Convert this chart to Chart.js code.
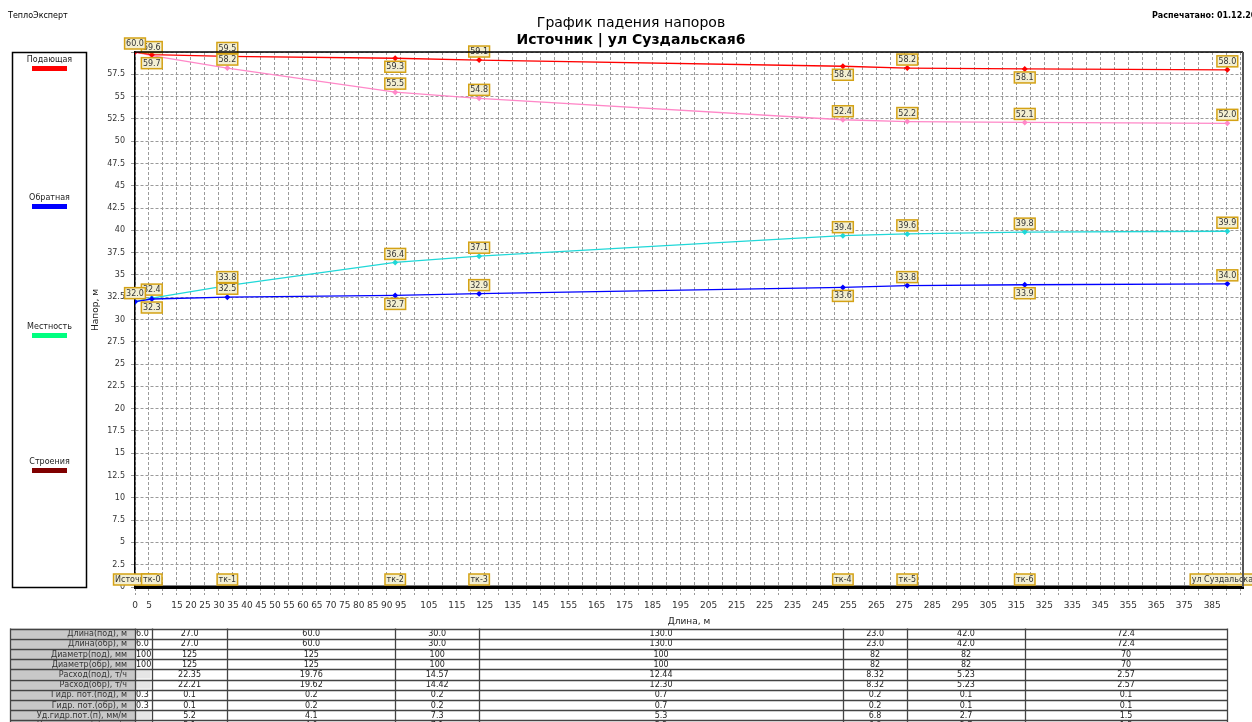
<!DOCTYPE html>
<html lang="ru">
<head>
    <meta charset="UTF-8">
    <title>График падения напоров</title>
    <script src="https://cdn.jsdelivr.net/npm/chart.js"></script>
    <style>
        body {
            margin: 0;
            background: #fff;
        }
        #chart {
            display: block;
        }
    </style>
</head>
<body>
    <canvas id="chart" width="1252" height="722"></canvas>
    <script>
        // Nodes along the pipe
        const nodeNames = ['Источник', 'тк-0', 'тк-1', 'тк-2', 'тк-3', 'тк-4', 'тк-5', 'тк-6', 'ул Суздальская6'];
        const nodeDist = [0, 6, 33, 93, 123, 253, 276, 318, 390.4];

        // Heads, m
        const supplyHead = [60.0, 59.7, 59.5, 59.3, 59.1, 58.4, 58.2, 58.1, 58.0];
        const supplyPiezo = [60.0, 59.6, 58.2, 55.5, 54.8, 52.4, 52.2, 52.1, 52.0];
        const returnHead = [32.0, 32.3, 32.5, 32.7, 32.9, 33.6, 33.8, 33.9, 34.0];
        const returnPiezo = [32.0, 32.4, 33.8, 36.4, 37.1, 39.4, 39.6, 39.8, 39.9];
        const terrain = [0, 0, 0, 0, 0, 0, 0, 0, 0];

        // which value labels sit under the point
        const supplyBelow = [1, 3, 5, 7];
        const returnBelow = [1, 3, 5, 7];

        // x tick labels that are printed
        const xTickLabels = [0, 5, 15, 20, 25, 30, 35, 40, 45, 50, 55, 60, 65, 70, 75, 80, 85, 90, 95,
            105, 115, 125, 135, 145, 155, 165, 175, 185, 195, 205, 215, 225, 235, 245, 255, 265, 275,
            285, 295, 305, 315, 325, 335, 345, 355, 365, 375, 385];

        const legendNames = ['Подающая', 'Обратная', 'Местность', 'Строения'];
        const legendColors = ['#ff0000', '#0000ff', '#00ff80', '#800000'];

        // Table under the chart (one value per pipe segment)
        const tableRows = ['Длина(под), м', 'Длина(обр), м', 'Диаметр(под), мм', 'Диаметр(обр), мм',
            'Расход(под), т/ч', 'Расход(обр), т/ч', 'Гидр. пот.(под), м', 'Гидр. пот.(обр), м',
            'Уд.гидр.пот.(п), мм/м', 'Уд.гидр.пот.(о), мм/м'];
        const lenSupply = ['6.0', '27.0', '60.0', '30.0', '130.0', '23.0', '42.0', '72.4'];
        const lenReturn = ['6.0', '27.0', '60.0', '30.0', '130.0', '23.0', '42.0', '72.4'];
        const diamSupply = ['100', '125', '125', '100', '100', '82', '82', '70'];
        const diamReturn = ['100', '125', '125', '100', '100', '82', '82', '70'];
        const flowSupply = ['', '22.35', '19.76', '14.57', '12.44', '8.32', '5.23', '2.57'];
        const flowReturn = ['', '22.21', '19.62', '14.42', '12.30', '8.32', '5.23', '2.57'];
        const lossSupply = ['0.3', '0.1', '0.2', '0.2', '0.7', '0.2', '0.1', '0.1'];
        const lossReturn = ['0.3', '0.1', '0.2', '0.2', '0.7', '0.2', '0.1', '0.1'];
        const specSupply = ['', '5.2', '4.1', '7.3', '5.3', '6.8', '2.7', '1.5'];
        const specReturn = ['', '5.1', '4.0', '7.1', '5.2', '6.8', '2.7', '1.5'];
        const tableData = [lenSupply, lenReturn, diamSupply, diamReturn, flowSupply, flowReturn,
            lossSupply, lossReturn, specSupply, specReturn];

        const FONT = 'DejaVu Sans';

        function pts(arr) {
            return arr.map((v, i) => ({x: nodeDist[i], y: v}));
        }

        function lineSet(label, values, color, extra) {
            return Object.assign({
                label: label,
                data: pts(values),
                borderColor: color,
                backgroundColor: color,
                borderWidth: 1.3,
                pointStyle: 'rectRot',
                pointRadius: 3,
                pointBorderWidth: 0,
                tension: 0
            }, extra || {});
        }

        function box(ctx, text, cx, y, above, fontSize) {
            ctx.font = fontSize + 'px ' + FONT;
            const w = ctx.measureText(text).width + 3;
            const h = 11;
            const top = above ? y - h : y;
            const left = cx - w / 2;
            ctx.fillStyle = '#f3efd2';
            ctx.fillRect(left, top, w, h);
            ctx.strokeStyle = '#d4a215';
            ctx.lineWidth = 1.5;
            ctx.strokeRect(left, top, w, h);
            ctx.fillStyle = '#333';
            ctx.textAlign = 'center';
            ctx.textBaseline = 'middle';
            ctx.fillText(text, cx, top + h / 2 + 0.5);
        }

        const labelsPlugin = {
            id: 'labels',
            afterDatasetsDraw(chart) {
                const ctx = chart.ctx;
                const xs = chart.scales.x, ys = chart.scales.y;
                ctx.save();
                const groups = [
                    {vals: supplyHead, below: supplyBelow, skip: []},
                    {vals: supplyPiezo, below: [], skip: [0]},
                    {vals: returnHead, below: returnBelow, skip: []},
                    {vals: returnPiezo, below: [], skip: [0]}
                ];
                // labels at the source last, so they stay on top
                const order = nodeDist.map((d, i) => i).slice(1).concat([0]);
                order.forEach(i => {
                    groups.forEach(g => {
                        if (g.skip.includes(i)) return;
                        const v = g.vals[i];
                        const px = xs.getPixelForValue(nodeDist[i]);
                        const py = ys.getPixelForValue(v);
                        if (g.below.includes(i)) box(ctx, v.toFixed(1), px, py + 3, false, 8);
                        else box(ctx, v.toFixed(1), px, py - 3, true, 8);
                    });
                });
                // node names on the bottom
                const y0 = ys.getPixelForValue(0);
                nodeNames.forEach((n, i) => {
                    box(ctx, n, xs.getPixelForValue(nodeDist[i]), y0 - 2, true, 8);
                });
                ctx.restore();
            },
            afterDraw(chart) {
                const ctx = chart.ctx;
                const a = chart.chartArea;
                const xs = chart.scales.x;
                ctx.save();
                // frame of the plot
                ctx.strokeStyle = '#000';
                ctx.lineWidth = 1.5;
                ctx.beginPath();
                ctx.moveTo(a.left, a.top);
                ctx.lineTo(a.right, a.top);
                ctx.stroke();
                ctx.strokeStyle = '#555';
                ctx.lineWidth = 2;
                ctx.beginPath();
                ctx.moveTo(a.right, a.top);
                ctx.lineTo(a.right, a.bottom);
                ctx.stroke();

                // header texts
                ctx.fillStyle = '#000';
                ctx.textBaseline = 'middle';
                ctx.textAlign = 'left';
                ctx.font = '8px ' + FONT;
                ctx.fillText('ТеплоЭксперт', 8, 16);
                ctx.font = 'bold 8px ' + FONT;
                ctx.fillText('Распечатано: 01.12.2011', 1152, 16);
                ctx.textAlign = 'center';
                ctx.font = '14px ' + FONT;
                ctx.fillText('График падения напоров', 631, 23);
                ctx.font = 'bold 14px ' + FONT;
                ctx.fillText('Источник | ул Суздальская6', 631, 40);

                // axis titles
                ctx.font = '9px ' + FONT;
                ctx.fillStyle = '#222';
                ctx.fillText('Длина, м', (a.left + a.right) / 2, 622);
                ctx.save();
                ctx.translate(96, 310);
                ctx.rotate(-Math.PI / 2);
                ctx.fillText('Напор, м', 0, 0);
                ctx.restore();

                // legend box
                ctx.strokeStyle = '#000';
                ctx.lineWidth = 1.5;
                ctx.strokeRect(12.5, 52.5, 74, 535);
                const legY = [60, 198, 327, 462];
                legendNames.forEach((n, i) => {
                    ctx.fillStyle = '#222';
                    ctx.font = '8px ' + FONT;
                    ctx.fillText(n, 49.5, legY[i]);
                    ctx.fillStyle = legendColors[i];
                    ctx.fillRect(32, legY[i] + 6, 35, 5);
                });

                // data table
                const top = 628.5, rh = 10.2;
                const labL = 10, labR = xs.getPixelForValue(0);
                const cols = nodeDist.map(d => xs.getPixelForValue(d));
                ctx.font = '8px ' + FONT;
                tableRows.forEach((name, r) => {
                    const y = top + r * rh;
                    ctx.fillStyle = '#c8c8c8';
                    ctx.fillRect(labL, y, labR - labL, rh);
                    ctx.fillStyle = '#333';
                    ctx.textAlign = 'right';
                    ctx.fillText(name, labR - 8, y + rh / 2 + 0.5);
                    tableData[r].forEach((v, c) => {
                        const l = cols[c], rr = cols[c + 1];
                        if (v === '') {
                            ctx.fillStyle = '#e6e6e6';
                            ctx.fillRect(l + 1, y + 1, rr - l - 2, rh - 2);
                            return;
                        }
                        ctx.fillStyle = '#222';
                        if (c === 0) {
                            ctx.textAlign = 'left';
                            ctx.fillText(v, l + 1, y + rh / 2 + 0.5);
                        } else {
                            ctx.textAlign = 'center';
                            ctx.fillText(v, (l + rr) / 2, y + rh / 2 + 0.5);
                        }
                    });
                });
                ctx.strokeStyle = '#444';
                ctx.lineWidth = 1.3;
                for (let r = 0; r <= tableRows.length; r++) {
                    const y = Math.round(top + r * rh) + 0.5;
                    ctx.beginPath();
                    ctx.moveTo(labL, y);
                    ctx.lineTo(cols[cols.length - 1], y);
                    ctx.stroke();
                }
                const bottom = top + tableRows.length * rh;
                [labL].concat(cols).forEach(x => {
                    const xx = Math.round(x) + 0.5;
                    ctx.beginPath();
                    ctx.moveTo(xx, top);
                    ctx.lineTo(xx, bottom);
                    ctx.stroke();
                });
                ctx.restore();
            }
        };

        const chart = new Chart(document.getElementById('chart'), {
            type: 'line',
            data: {
                datasets: [
                    lineSet('Подающая', supplyHead, '#ff0000'),
                    lineSet('Подающая (пьез.)', supplyPiezo, '#ff88c8'),
                    lineSet('Обратная', returnHead, '#0000ff'),
                    lineSet('Обратная (пьез.)', returnPiezo, '#20d8d8'),
                    lineSet('Местность', terrain, '#000000', {borderWidth: 3, pointRadius: 0})
                ]
            },
            options: {
                responsive: false,
                animation: false,
                layout: {padding: {left: 0, top: 52, right: 9, bottom: 100}},
                plugins: {
                    legend: {display: false},
                    title: {display: false},
                    tooltip: {enabled: false}
                },
                scales: {
                    x: {
                        type: 'linear',
                        min: 0,
                        max: 396,
                        afterFit(s) { s.height = 35; },
                        afterBuildTicks(s) {
                            const t = [];
                            for (let v = 0; v <= 395; v += 5) t.push({value: v});
                            s.ticks = t;
                        },
                        ticks: {
                            autoSkip: false,
                            maxRotation: 0,
                            padding: 4,
                            color: '#333',
                            font: {family: FONT, size: 9},
                            callback: v => xTickLabels.includes(v) ? String(v) : ''
                        },
                        grid: {
                            color: '#9a9a9a',
                            lineWidth: 1,
                            tickLength: 9,
                            tickBorderDash: [2, 2]
                        },
                        border: {color: '#000', width: 3, dash: [3, 2]}
                    },
                    y: {
                        min: 0,
                        max: 60,
                        afterFit(s) { s.width = 135; },
                        ticks: {
                            stepSize: 2.5,
                            padding: 6,
                            color: '#333',
                            font: {family: FONT, size: 8},
                            callback: v => v === 60 ? '' : String(v)
                        },
                        grid: {
                            color: '#9a9a9a',
                            lineWidth: 1,
                            tickLength: 4
                        },
                        border: {color: '#000', width: 1.5, dash: [3, 2]}
                    }
                }
            },
            plugins: [labelsPlugin]
        });
    </script>
</body>
</html>
